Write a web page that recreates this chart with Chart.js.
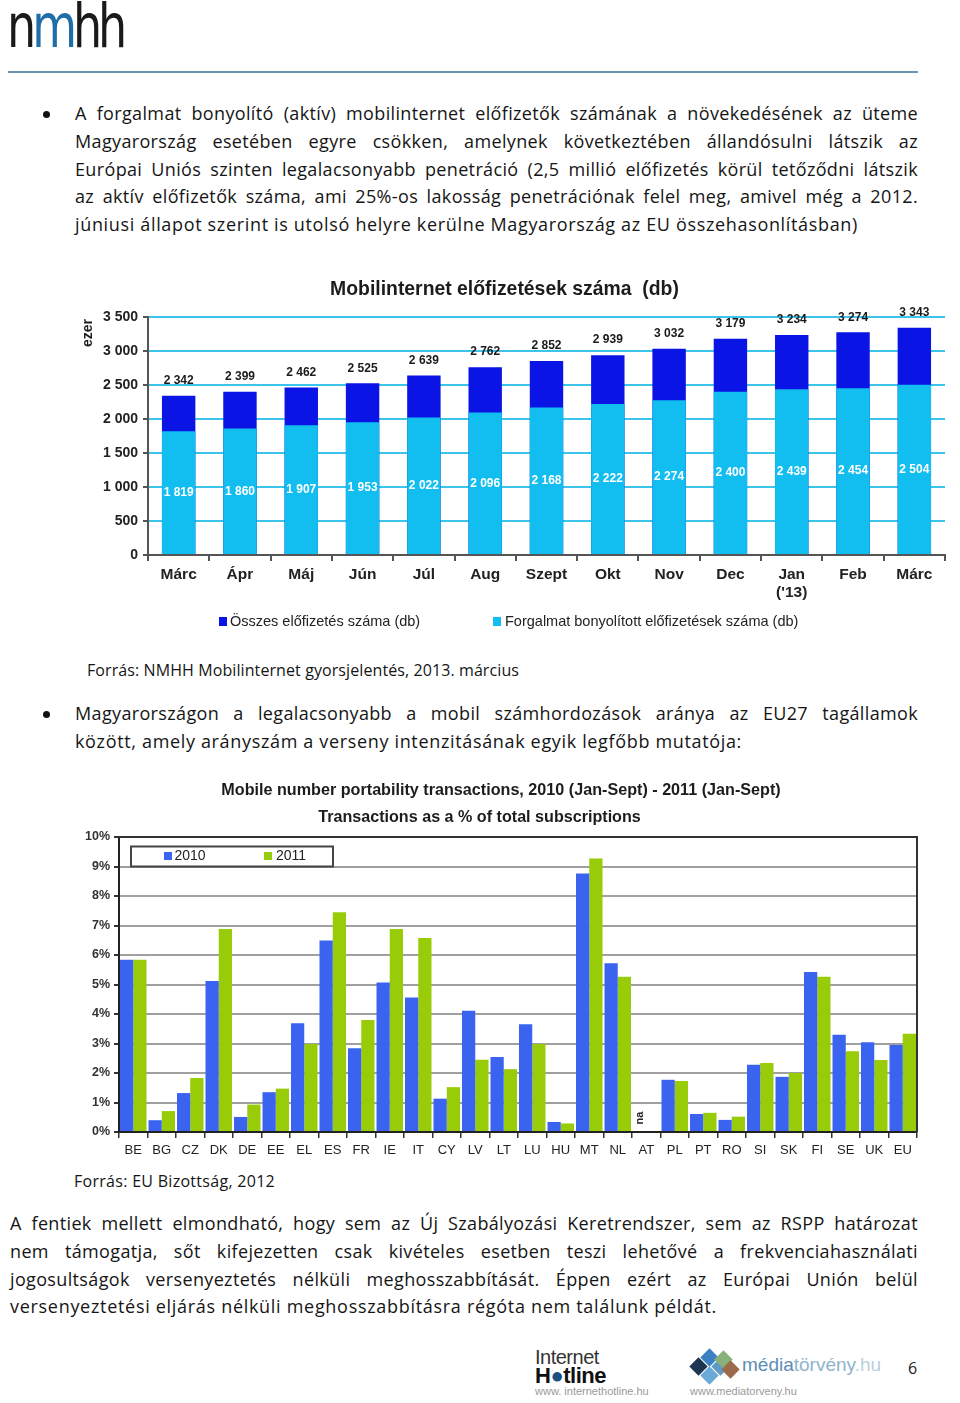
<!DOCTYPE html>
<html><head><meta charset="utf-8">
<script src="https://cdn.jsdelivr.net/npm/chart.js@4.4.0/dist/chart.umd.min.js"></script>
<style>
body{margin:0;width:960px;height:1403px;position:relative;background:#fff;font-family:"Open Sans","Liberation Sans",Arial,sans-serif;color:#151515;overflow:hidden}
.abs{position:absolute}
.txt{font-size:18px;line-height:27.8px}
.txt div, .src div{height:27.8px;white-space:nowrap}
.src div{height:20px}
.txt span, .src span{white-space:nowrap;display:inline-block}
.dot{position:absolute;width:7px;height:7px;border-radius:50%;background:#111}
.src{font-size:16px;line-height:20px}
canvas{position:absolute}
.dia{position:absolute;width:13px;height:13px;transform:rotate(45deg)}
</style></head><body>

<div class="abs" style="left:7px;top:-4px;font-family:'DejaVu Sans',sans-serif;font-weight:normal;font-size:46px;line-height:46px;letter-spacing:-4px;transform:scaleY(1.3);transform-origin:top left;color:#1a1a1a">n<span style="color:#1f6ea8">m</span>hh</div>
<div class="abs" style="left:8px;top:71px;width:910px;height:2px;background:#6b93ad"></div>

<div class="dot" style="left:43px;top:110.5px"></div>
<div class="abs txt" style="left:75px;top:100px;width:843px">
<div><span class="j" data-w="843">A forgalmat bonyolító (aktív) mobilinternet előfizetők számának a növekedésének az üteme</span></div>
<div><span class="j" data-w="843">Magyarország esetében egyre csökken, amelynek következtében állandósulni látszik az</span></div>
<div><span class="j" data-w="843">Európai Uniós szinten legalacsonyabb penetráció (2,5 millió előfizetés körül tetőződni látszik</span></div>
<div><span class="j" data-w="843">az aktív előfizetők száma, ami 25%-os lakosság penetrációnak felel meg, amivel még a 2012.</span></div>
<div><span class="l" data-w="783">júniusi állapot szerint is utolsó helyre kerülne Magyarország az EU összehasonlításban)</span></div>
</div>

<canvas id="c1" width="880" height="375" style="left:75px;top:265px;width:880px;height:375px"></canvas>

<div class="abs src" style="left:87px;top:660px"><div><span class="l" data-w="432">Forrás: NMHH Mobilinternet gyorsjelentés, 2013. március</span></div></div>

<div class="dot" style="left:43px;top:710.5px"></div>
<div class="abs txt" style="left:75px;top:700px;width:843px">
<div><span class="j" data-w="843">Magyarországon a legalacsonyabb a mobil számhordozások aránya az EU27 tagállamok</span></div>
<div><span class="l" data-w="667">között, amely arányszám a verseny intenzitásának egyik legfőbb mutatója:</span></div>
</div>

<canvas id="c2" width="860" height="390" style="left:70px;top:775px;width:860px;height:390px"></canvas>

<div class="abs src" style="left:74px;top:1171px"><div><span class="l" data-w="201">Forrás: EU Bizottság, 2012</span></div></div>

<div class="abs txt" style="left:10px;top:1210px;width:908px">
<div><span class="j" data-w="908">A fentiek mellett elmondható, hogy sem az Új Szabályozási Keretrendszer, sem az RSPP határozat</span></div>
<div><span class="j" data-w="908">nem támogatja, sőt kifejezetten csak kivételes esetben teszi lehetővé a frekvenciahasználati</span></div>
<div><span class="j" data-w="908">jogosultságok versenyeztetés nélküli meghosszabbítását. Éppen ezért az Európai Unión belül</span></div>
<div><span class="l" data-w="707">versenyeztetési eljárás nélküli meghosszabbításra régóta nem találunk példát.</span></div>
</div>

<div class="abs" style="left:535px;top:1347px;font-family:'Liberation Sans',Arial,sans-serif;font-size:20px;line-height:20px;color:#333;letter-spacing:-0.5px">Internet</div>
<div class="abs" style="left:535px;top:1365px;font-family:'Liberation Sans',Arial,sans-serif;font-size:22px;line-height:22px;font-weight:bold;color:#111;letter-spacing:-0.5px">H<span style="color:#1a4f86">●</span>tline</div>
<div class="abs" style="left:535px;top:1385px;font-family:'Liberation Sans',Arial,sans-serif;font-size:11px;color:#9a9a9a">www. internethotline.hu</div>
<div class="dia" style="left:692px;top:1360px;background:#1d3550"></div>
<div class="dia" style="left:703px;top:1351px;background:#3b80c0"></div>
<div class="dia" style="left:703px;top:1369px;background:#6aaad8"></div>
<div class="dia" style="left:714px;top:1360px;background:#5e9ac8"></div>
<div class="dia" style="left:717px;top:1353px;background:#8ab07a"></div>
<div class="dia" style="left:724px;top:1363px;background:#9a6a4a"></div>
<div class="abs" style="left:742px;top:1354px;font-family:'Liberation Sans',Arial,sans-serif;font-size:19px;line-height:22px;color:#5b8db5">média<span style="color:#8fb3cc">törvény</span><span style="color:#b9d0e0">.hu</span></div>
<div class="abs" style="left:690px;top:1385px;font-family:'Liberation Sans',Arial,sans-serif;font-size:11px;color:#9a9a9a">www.mediatorveny.hu</div>
<div class="abs" style="left:908px;top:1357px;font-size:16px;color:#222">6</div>

<script>
// ---------- Data: chart 1 ----------
const months = ["Márc","Ápr","Máj","Jún","Júl","Aug","Szept","Okt","Nov","Dec",["Jan","('13)"],"Feb","Márc"];
const totalSubs = [2342,2399,2462,2525,2639,2762,2852,2939,3032,3179,3234,3274,3343];
const activeSubs = [1819,1860,1907,1953,2022,2096,2168,2222,2274,2400,2439,2454,2504];
const seriesNames1 = ["Összes előfizetés száma (db)","Forgalmat bonyolított előfizetések száma (db)"];
const title1 = "Mobilinternet előfizetések száma  (db)";
const yAxisTitle1 = "ezer";

// ---------- Data: chart 2 ----------
const countries = ["BE","BG","CZ","DK","DE","EE","EL","ES","FR","IE","IT","CY","LV","LT","LU","HU","MT","NL","AT","PL","PT","RO","SI","SK","FI","SE","UK","EU"];
const mnp2010 = [5.84,0.40,1.32,5.12,0.51,1.35,3.69,6.49,2.84,5.07,4.56,1.13,4.11,2.54,3.65,0.34,8.76,5.72,null,1.77,0.61,0.41,2.28,1.87,5.42,3.30,3.04,2.95];
const mnp2011 = [5.84,0.71,1.83,6.88,0.93,1.47,2.98,7.45,3.80,6.88,6.58,1.52,2.45,2.13,2.98,0.29,9.27,5.26,null,1.73,0.65,0.52,2.34,2.00,5.26,2.74,2.44,3.33];
const seriesNames2 = ["2010","2011"];
const title2a = "Mobile number portability transactions, 2010 (Jan-Sept) - 2011 (Jan-Sept)";
const title2b = "Transactions as a % of total subscriptions";
const naLabel = "na";

// ---------- fit page text lines to reference widths ----------
document.querySelectorAll("span[data-w]").forEach(el => {
  const target = +el.dataset.w;
  if (el.classList.contains("j")) {
    el.style.letterSpacing = "0.35px";
    const w = el.getBoundingClientRect().width;
    const n = (el.textContent.match(/ /g) || []).length;
    el.style.wordSpacing = ((target - w) / n) + "px";
  } else {
    const w = el.getBoundingClientRect().width;
    const n = el.textContent.length;
    el.style.letterSpacing = ((target - w) / n) + "px";
  }
});

const FONT = "'Liberation Sans', Arial, sans-serif";
const fmt = n => String(n).replace(/\B(?=(\d{3})+(?!\d))/g, " ");

function fitText(ctx, text, weight, target) {
  let s = 16;
  ctx.font = `${weight} ${s}px ${FONT}`;
  const w = ctx.measureText(text).width;
  s = s * target / w;
  ctx.font = `${weight} ${s}px ${FONT}`;
}

// ---------- Chart 1 ----------
const DARK = "#0a14e4", LIGHT = "#12bdf0";
const deco1 = {
  id: "deco1",
  afterDatasetsDraw(chart) {
    const ctx = chart.ctx;
    const m0 = chart.getDatasetMeta(0), m1 = chart.getDatasetMeta(1);
    ctx.save();
    ctx.textAlign = "center"; ctx.textBaseline = "middle";
    ctx.font = `bold 12px ${FONT}`;
    m0.data.forEach((b, i) => {
      ctx.fillStyle = "#1a1a1a";
      ctx.fillText(fmt(totalSubs[i]), b.x, b.y - 15);
    });
    m1.data.forEach((b, i) => {
      ctx.fillStyle = "#ffffff";
      ctx.fillText(fmt(activeSubs[i]), b.x, (b.y + b.base) / 2);
    });
    ctx.restore();
  },
  afterDraw(chart) {
    const ctx = chart.ctx;
    ctx.save();
    ctx.textBaseline = "middle"; ctx.textAlign = "center";
    ctx.fillStyle = "#1c1c1c";
    fitText(ctx, title1, "bold", 349);
    ctx.fillText(title1, 429.5, 25);
    ctx.save();
    ctx.translate(13, 68); ctx.rotate(-Math.PI / 2);
    ctx.font = `bold 14px ${FONT}`;
    ctx.fillText(yAxisTitle1, 0, 0);
    ctx.restore();
    ctx.textAlign = "left";
    ctx.font = `14.5px ${FONT}`;
    ctx.fillStyle = DARK; ctx.fillRect(144, 352, 8, 9);
    ctx.fillStyle = "#222"; ctx.fillText(seriesNames1[0], 155, 357);
    ctx.fillStyle = LIGHT; ctx.fillRect(418, 352, 8, 9);
    ctx.fillStyle = "#222"; ctx.fillText(seriesNames1[1], 430, 357);
    ctx.restore();
  }
};

new Chart(document.getElementById("c1"), {
  type: "bar",
  data: {
    labels: months,
    datasets: [
      { label: seriesNames1[0], data: totalSubs, backgroundColor: DARK, barPercentage: 0.545, categoryPercentage: 1, order: 2 },
      { label: seriesNames1[1], data: activeSubs, backgroundColor: LIGHT, barPercentage: 0.545, categoryPercentage: 1, order: 1 }
    ]
  },
  options: {
    responsive: false, animation: false,
    layout: { padding: { top: 52, right: 10, left: 0, bottom: 0 } },
    plugins: { legend: { display: false }, title: { display: false }, tooltip: { enabled: false } },
    scales: {
      x: {
        stacked: true,
        grid: { drawOnChartArea: false, drawTicks: true, offset: true, tickLength: 6, tickColor: "#555", lineWidth: 2 },
        border: { color: "#555", width: 2 },
        ticks: { font: { family: FONT, size: 15.5, weight: "bold" }, color: "#222", padding: 4, maxRotation: 0, autoSkip: false },
        afterFit: s => { s.height = 85; }
      },
      y: {
        stacked: false, min: 0, max: 3500,
        ticks: { stepSize: 500, callback: v => fmt(v), font: { family: FONT, size: 14, weight: "bold" }, color: "#222", padding: 5 },
        grid: { color: c => c.tick && c.tick.value === 0 ? "rgba(0,0,0,0)" : "#3cc4ec", lineWidth: 2, tickLength: 5, tickColor: "#555" },
        border: { color: "#555", width: 2 },
        afterFit: s => { s.width = 73; }
      }
    }
  },
  plugins: [deco1]
});

// ---------- Chart 2 ----------
const BLUE = "#3a64f0", GREEN = "#99cc08";
const deco2 = {
  id: "deco2",
  afterDatasetsDraw(chart) {
    const ctx = chart.ctx;
    const a = chart.chartArea;
    ctx.save();
    ctx.strokeStyle = "#333"; ctx.lineWidth = 2;
    ctx.beginPath();
    ctx.moveTo(a.left, a.top); ctx.lineTo(a.right, a.top); ctx.lineTo(a.right, a.bottom);
    ctx.stroke();
    const m0 = chart.getDatasetMeta(0);
    const idx = countries.indexOf("AT");
    const xs = chart.scales.x.getPixelForValue(idx);
    const bw = m0.data[idx - 1].width;
    ctx.save();
    ctx.translate(xs - bw / 2, a.bottom - 14);
    ctx.rotate(-Math.PI / 2);
    ctx.textAlign = "center"; ctx.textBaseline = "middle";
    ctx.fillStyle = "#222"; ctx.font = `bold 11px ${FONT}`;
    ctx.fillText(naLabel, 0, 0);
    ctx.restore();
    ctx.restore();
  },
  afterDraw(chart) {
    const ctx = chart.ctx;
    ctx.save();
    ctx.textAlign = "center"; ctx.textBaseline = "middle";
    ctx.fillStyle = "#1c1c1c";
    fitText(ctx, title2a, "bold", 560);
    ctx.fillText(title2a, 431, 16);
    fitText(ctx, title2b, "bold", 323);
    ctx.fillText(title2b, 409.5, 43);
    ctx.fillStyle = "#fff";
    ctx.fillRect(61, 71.5, 202, 20);
    ctx.strokeStyle = "#444"; ctx.lineWidth = 2;
    ctx.strokeRect(61, 71.5, 202, 20);
    ctx.textAlign = "left";
    ctx.font = `14px ${FONT}`;
    ctx.fillStyle = BLUE; ctx.fillRect(94, 77, 8, 8);
    ctx.fillStyle = "#222"; ctx.fillText(seriesNames2[0], 104.5, 81.5);
    ctx.fillStyle = GREEN; ctx.fillRect(194, 77, 8, 8);
    ctx.fillStyle = "#222"; ctx.fillText(seriesNames2[1], 206, 81.5);
    ctx.restore();
  }
};

new Chart(document.getElementById("c2"), {
  type: "bar",
  data: {
    labels: countries,
    datasets: [
      { label: seriesNames2[0], data: mnp2010, backgroundColor: BLUE, barPercentage: 1, categoryPercentage: 0.93 },
      { label: seriesNames2[1], data: mnp2011, backgroundColor: GREEN, barPercentage: 1, categoryPercentage: 0.93 }
    ]
  },
  options: {
    responsive: false, animation: false,
    layout: { padding: { top: 62, right: 13, left: 0, bottom: 0 } },
    plugins: { legend: { display: false }, title: { display: false }, tooltip: { enabled: false } },
    scales: {
      x: {
        grid: { drawOnChartArea: false, drawTicks: true, offset: true, tickLength: 6, tickColor: "#333", lineWidth: 1.5 },
        border: { color: "#222", width: 2 },
        ticks: { font: { family: FONT, size: 13 }, color: "#222", padding: 5, maxRotation: 0, autoSkip: false },
        afterFit: s => { s.height = 33; }
      },
      y: {
        min: 0, max: 10,
        ticks: { stepSize: 1, callback: v => v + "%", font: { family: FONT, size: 12.5, weight: "bold" }, color: "#333", padding: 4 },
        grid: { color: c => c.tick && c.tick.value === 0 ? "rgba(0,0,0,0)" : "#a0a0a0", lineWidth: 2, tickLength: 5, tickColor: "#333" },
        border: { color: "#222", width: 2 },
        afterFit: s => { s.width = 49; }
      }
    }
  },
  plugins: [deco2]
});
</script>
</body></html>
